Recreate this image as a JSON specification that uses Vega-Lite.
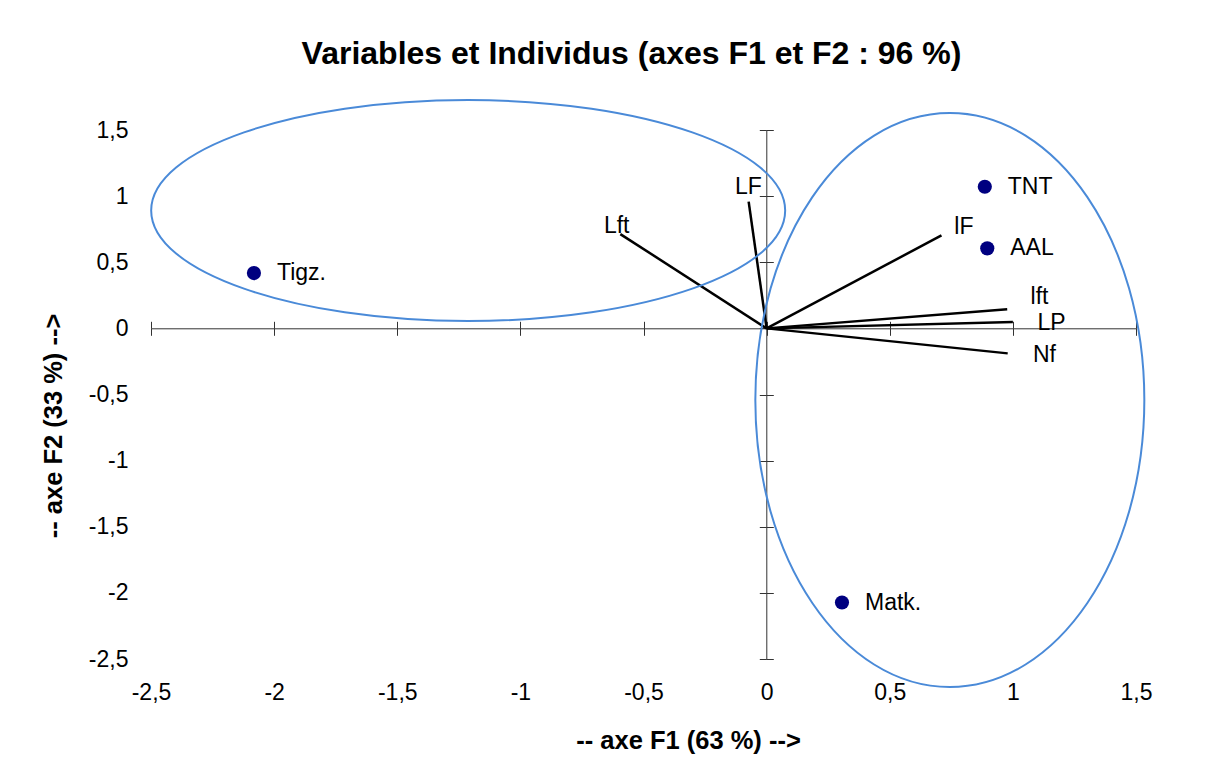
{
  "$schema": "https://vega.github.io/schema/vega-lite/v6.json",
  "width": 985,
  "height": 529,
  "autosize": {"type": "none"},
  "padding": {"left": 151, "top": 130, "right": 79, "bottom": 112},
  "background": "white",
  "config": {
    "font": "Liberation Sans",
    "view": {"stroke": null},
    "locale": {"number": {"decimal": ",", "thousands": " ", "grouping": [3], "currency": ["", " €"], "minus": "-"}}
  },
  "title": {
    "text": "Variables et Individus (axes F1 et F2 : 96 %)",
    "font": "Liberation Sans",
    "fontSize": 32,
    "fontWeight": "bold",
    "color": "#000000",
    "anchor": "middle",
    "frame": "group",
    "baseline": "alphabetic",
    "dx": -12,
    "offset": 0
  },
  "datasets": {
    "pts": [
      {"name": "Tigz.", "x": -2.082, "y": 0.418},
      {"name": "TNT", "x": 0.886, "y": 1.071},
      {"name": "AAL", "x": 0.896, "y": 0.605},
      {"name": "Matk.", "x": 0.306, "y": -2.073}
    ],
    "vars": [
      {"name": "Lft", "x": -0.594, "y": 0.713, "lx": -0.609, "ly": 0.774},
      {"name": "LF", "x": -0.073, "y": 0.958, "lx": -0.074, "ly": 1.069},
      {"name": "lF", "x": 0.710, "y": 0.703, "lx": 0.801, "ly": 0.766},
      {"name": "lft", "x": 0.977, "y": 0.144, "lx": 1.108, "ly": 0.237},
      {"name": "LP", "x": 1.0, "y": 0.048, "lx": 1.157, "ly": 0.040},
      {"name": "Nf", "x": 0.979, "y": -0.189, "lx": 1.128, "ly": -0.202}
    ],
    "ell": [
      {"group": "left", "cx": -1.212, "cy": 0.891},
      {"group": "right", "cx": 0.744, "cy": -0.542}
    ]
  },
  "resolve": {"axis": {"x": "independent", "y": "independent"}},
  "layer": [
    {
      "data": {"name": "pts"},
      "mark": {"type": "point", "filled": true, "shape": "circle", "size": 201, "color": "#000080", "opacity": 1},
      "encoding": {
        "x": {
          "field": "x", "type": "quantitative",
          "scale": {"domain": [-2.5, 1.5], "nice": false, "zero": false},
          "axis": {
            "orient": "bottom", "values": [-2.5, -2, -1.5, -1, -0.5, 0, 0.5, 1, 1.5], "format": ".1~f",
            "domain": false, "ticks": false, "tickSize": 0, "grid": false,
            "labelPadding": 22, "labelFontSize": 23, "labelColor": "#000000", "labelFlush": false, "labelOverlap": false,
            "title": "-- axe F1 (63 %) -->", "titleFontSize": 25.5, "titleFontWeight": "bold", "titleColor": "#000000",
            "titleX": 537, "titleY": 89, "titleBaseline": "alphabetic", "titleAlign": "center"
          }
        },
        "y": {
          "field": "y", "type": "quantitative",
          "scale": {"domain": [-2.5, 1.5], "nice": false, "zero": false},
          "axis": {
            "orient": "left", "values": [-2.5, -2, -1.5, -1, -0.5, 0, 0.5, 1, 1.5], "format": ".1~f",
            "domain": false, "ticks": false, "tickSize": 0, "grid": false,
            "labelPadding": 23, "labelFontSize": 23, "labelColor": "#000000", "labelFlush": false, "labelOverlap": false,
            "title": "-- axe F2 (33 %) -->", "titleFontSize": 25.5, "titleFontWeight": "bold", "titleColor": "#000000",
            "titleX": -90, "titleY": 295.5, "titleBaseline": "alphabetic", "titleAlign": "center", "titleAngle": 270
          }
        }
      }
    },
    {
      "data": {"name": "pts"},
      "mark": {"type": "text", "align": "left", "baseline": "middle", "dx": 23, "fontSize": 23, "color": "#000000"},
      "encoding": {
        "x": {
          "field": "x", "type": "quantitative",
          "axis": {
            "orient": "bottom", "offset": -330.7, "values": [-2.5, -2, -1.5, -1, -0.5, 0, 0.5, 1, 1.5],
            "domain": true, "domainColor": "#333333", "domainWidth": 1,
            "ticks": true, "tickSize": 7, "tickColor": "#333333", "tickWidth": 1,
            "labels": false, "grid": false, "title": null
          }
        },
        "y": {
          "field": "y", "type": "quantitative",
          "axis": {
            "orient": "left", "offset": -615.3, "values": [-2.5, -2, -1.5, -1, -0.5, 0, 0.5, 1, 1.5],
            "domain": true, "domainColor": "#333333", "domainWidth": 1,
            "ticks": true, "tickSize": 7, "tickColor": "#333333", "tickWidth": 1,
            "labels": false, "grid": false, "title": null
          }
        },
        "text": {"field": "name", "type": "nominal"}
      }
    },
    {
      "data": {"name": "vars"},
      "mark": {"type": "text", "align": "center", "baseline": "middle", "fontSize": 23, "color": "#000000"},
      "encoding": {
        "x": {
          "field": "lx", "type": "quantitative",
          "axis": {
            "orient": "top", "offset": -198.3, "values": [-2.5, -2, -1.5, -1, -0.5, 0, 0.5, 1, 1.5],
            "domain": false, "ticks": true, "tickSize": 7, "tickColor": "#333333", "tickWidth": 1,
            "labels": false, "grid": false, "title": null
          }
        },
        "y": {
          "field": "ly", "type": "quantitative",
          "axis": {
            "orient": "right", "offset": -369.7, "values": [-2.5, -2, -1.5, -1, -0.5, 0, 0.5, 1, 1.5],
            "domain": false, "ticks": true, "tickSize": 7, "tickColor": "#333333", "tickWidth": 1,
            "labels": false, "grid": false, "title": null
          }
        },
        "text": {"field": "name", "type": "nominal"}
      }
    },
    {
      "data": {"name": "vars"},
      "mark": {"type": "rule", "color": "#000000", "strokeWidth": 2.5},
      "encoding": {
        "x": {"field": "x", "type": "quantitative", "axis": null},
        "y": {"field": "y", "type": "quantitative", "axis": null},
        "x2": {"datum": 0},
        "y2": {"datum": 0}
      }
    },
    {
      "data": {"name": "ell"},
      "transform": [{"filter": "datum.group === 'left'"}],
      "mark": {"type": "point", "filled": false, "shape": "M -1 0 A 1 0.3486 0 1 1 1 0 A 1 0.3486 0 1 1 -1 0 Z", "size": 401956, "stroke": "#4a8ad8", "strokeWidth": 2, "opacity": 1},
      "encoding": {
        "x": {"field": "cx", "type": "quantitative", "axis": null},
        "y": {"field": "cy", "type": "quantitative", "axis": null}
      }
    },
    {
      "data": {"name": "ell"},
      "transform": [{"filter": "datum.group === 'right'"}],
      "mark": {"type": "point", "filled": false, "shape": "M 0 -1 A 0.6777 1 0 1 1 0 1 A 0.6777 1 0 1 1 0 -1 Z", "size": 329476, "stroke": "#4a8ad8", "strokeWidth": 2, "opacity": 1},
      "encoding": {
        "x": {"field": "cx", "type": "quantitative", "axis": null},
        "y": {"field": "cy", "type": "quantitative", "axis": null}
      }
    }
  ]
}
